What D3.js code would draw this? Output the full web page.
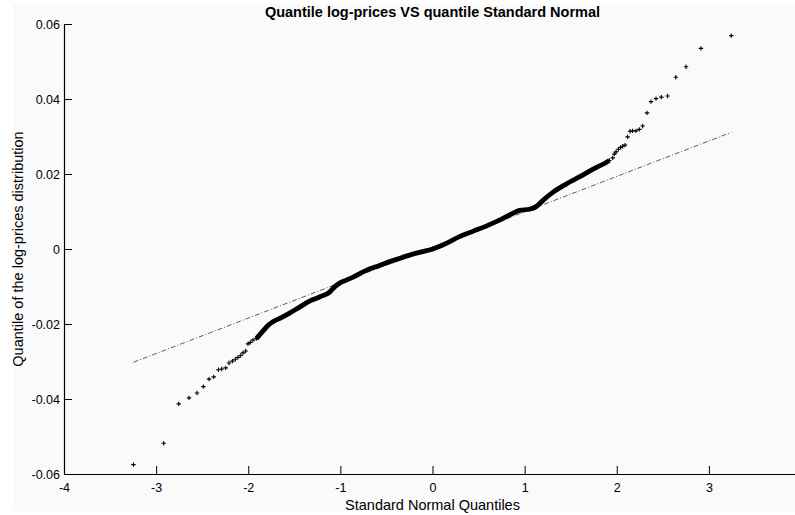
<!DOCTYPE html>
<html>
<head>
<meta charset="utf-8">
<script src="https://cdn.jsdelivr.net/npm/d3@7.9.0/dist/d3.min.js"></script>
<style>
  body { margin: 0; background: #fff; }
  text { font-family: "Liberation Sans", Arial, Helvetica, sans-serif; fill: #000; }
</style>
</head>
<body>
<svg id="chart" width="795" height="515"></svg>
<script>
// theoretical standard normal quantiles (x) and sample log-price quantiles (y)
const normalQ = [
  -3.246, -2.918, -2.755, -2.643, -2.556, -2.487, -2.426, -2.375, -2.324, -2.288,
  -2.245, -2.209, -2.172, -2.140, -2.112, -2.082, -2.057, -2.028, -2.003, -1.977,
  -1.949, -1.912, -1.841, -1.786, -1.732, -1.641, -1.551, -1.443, -1.334, -1.226,
  -1.117, -1.063, -1.009, -0.936, -0.846, -0.719, -0.575, -0.431, -0.285, -0.141,
  0.003, 0.149, 0.293, 0.437, 0.582, 0.727, 0.871, 0.944, 1.052, 1.125,
  1.196, 1.305, 1.450, 1.630, 1.775, 1.866, 1.920, 1.956, 1.974, 1.992,
  2.017, 2.042, 2.064, 2.090, 2.118, 2.144, 2.172, 2.209, 2.245, 2.281,
  2.329, 2.372, 2.426, 2.484, 2.552, 2.641, 2.752, 2.914, 3.243
];
const logPriceQ = [
  -0.0575, -0.0518, -0.0413, -0.0397, -0.0384, -0.0367, -0.0347, -0.0341, -0.0322, -0.0320,
  -0.0317, -0.0304, -0.0299, -0.0294, -0.0289, -0.0284, -0.0277, -0.0272, -0.0253, -0.0249,
  -0.0243, -0.0239, -0.0219, -0.0204, -0.0194, -0.0183, -0.0171, -0.0155, -0.0139, -0.0128,
  -0.0115, -0.0101, -0.0091, -0.0083, -0.0073, -0.0057, -0.0044, -0.0031, -0.0019, -0.0009,
  0.0000, 0.0015, 0.0033, 0.0047, 0.0061, 0.0077, 0.0095, 0.0103, 0.0106, 0.0113,
  0.0129, 0.0151, 0.0173, 0.0197, 0.0217, 0.0228, 0.0236, 0.0243, 0.0253, 0.0259,
  0.0266, 0.0271, 0.0274, 0.0277, 0.0299, 0.0314, 0.0315, 0.0315, 0.0319, 0.0328,
  0.0363, 0.0393, 0.0401, 0.0405, 0.0408, 0.0458, 0.0486, 0.0535, 0.0569
];
// reference line through the quartiles
const refX = [-3.246, 3.243];
const refY = [-0.0302, 0.0311];

const xTicks = [-4, -3, -2, -1, 0, 1, 2, 3];
const yTicks = [-0.06, -0.04, -0.02, 0, 0.02, 0.04, 0.06];

const svg = d3.select('#chart');
const plotLeft = 64, plotRight = 801, plotTop = 24, plotBottom = 474;

svg.append('rect')
  .attr('x', 13).attr('y', 4)
  .attr('width', 782).attr('height', 507)
  .attr('fill', '#fafafa');

const x = d3.scaleLinear().domain([-4, 4]).range([plotLeft, plotRight]);
const y = d3.scaleLinear().domain([-0.06, 0.06]).range([plotBottom, plotTop]);

const pts = normalQ.map((q, i) => ({ q, v: logPriceQ[i] }));

// reference line (dash-dot)
svg.append('path')
  .datum(refX.map((q, i) => ({ q, v: refY[i] })))
  .attr('d', d3.line().x(d => x(d.q)).y(d => y(d.v)))
  .attr('fill', 'none')
  .attr('stroke', '#333')
  .attr('stroke-width', 0.8)
  .attr('stroke-dasharray', '5,2,1,2');

// dense middle of the sample: markers overlap into a thick band
svg.append('path')
  .datum(pts.filter(d => Math.abs(d.q) < 1.93))
  .attr('d', d3.line().x(d => x(d.q)).y(d => y(d.v)).curve(d3.curveMonotoneX))
  .attr('fill', 'none')
  .attr('stroke', '#000')
  .attr('stroke-width', 4.8)
  .attr('stroke-linejoin', 'round');

const s = 2.2;
svg.append('g')
  .selectAll('path')
  .data(pts)
  .join('path')
  .attr('d', d => {
    const px = x(d.q), py = y(d.v);
    return `M${px - s},${py}H${px + s}M${px},${py - s}V${py + s}`;
  })
  .attr('stroke', '#000')
  .attr('stroke-width', 1.1);

// axes, ticks pointing inward
const xAxis = svg.append('g')
  .attr('transform', `translate(0,${plotBottom})`)
  .call(d3.axisBottom(x).tickValues(xTicks).tickSize(-8).tickSizeOuter(0).tickPadding(9.5).tickFormat(d => String(d)));

const yAxis = svg.append('g')
  .attr('transform', `translate(${plotLeft},0)`)
  .call(d3.axisLeft(y).tickValues(yTicks).tickSize(-8).tickSizeOuter(0).tickPadding(4)
    .tickFormat(d => d === 0 ? '0' : d.toFixed(2)));

[xAxis, yAxis].forEach(g => {
  g.selectAll('text').attr('font-size', 12.5).attr('fill', '#000')
    .style('font-family', '"Liberation Sans", Arial, sans-serif');
  g.selectAll('line').attr('stroke', '#000');
  g.select('.domain').attr('stroke', '#000').attr('stroke-width', 1.2);
});

svg.append('text')
  .attr('x', (plotLeft + plotRight) / 2).attr('y', 16.5)
  .attr('text-anchor', 'middle')
  .attr('font-size', 14.5).attr('font-weight', 'bold')
  .text('Quantile log-prices VS quantile Standard Normal');

svg.append('text')
  .attr('x', (plotLeft + plotRight) / 2).attr('y', 510)
  .attr('text-anchor', 'middle')
  .attr('font-size', 14.5)
  .text('Standard Normal Quantiles');

svg.append('text')
  .attr('transform', `translate(23,${(plotTop + plotBottom) / 2}) rotate(-90)`)
  .attr('text-anchor', 'middle')
  .attr('font-size', 14.5)
  .text('Quantile of the log-prices distribution');
</script>
</body>
</html>
